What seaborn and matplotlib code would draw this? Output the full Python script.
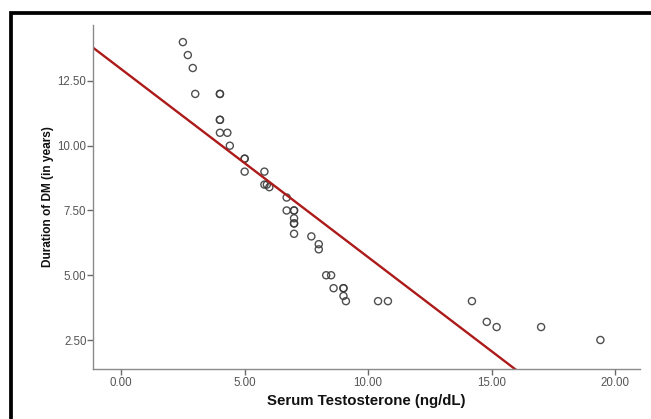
import matplotlib
matplotlib.use("Agg")
import matplotlib.pyplot as plt
from matplotlib.patches import Rectangle
import seaborn as sns
import pandas as pd

# Data
testosterone = [2.5, 2.7, 2.9, 3.0, 4.0, 4.0, 4.0, 4.0, 4.0, 4.3,
                4.4, 5.0, 5.0, 5.0, 5.8, 5.8, 5.9, 6.0, 6.7, 6.7,
                7.0, 7.0, 7.0, 7.0, 7.0, 7.0, 7.7, 8.0, 8.0, 8.3,
                8.5, 8.6, 9.0, 9.0, 9.0, 9.1, 10.4, 10.8, 14.2, 14.8,
                15.2, 17.0, 19.4]
duration = [14.0, 13.5, 13.0, 12.0, 12.0, 12.0, 11.0, 11.0, 10.5, 10.5,
            10.0, 9.5, 9.5, 9.0, 9.0, 8.5, 8.5, 8.4, 8.0, 7.5,
            7.5, 7.5, 7.2, 7.0, 7.0, 6.6, 6.5, 6.2, 6.0, 5.0,
            5.0, 4.5, 4.5, 4.5, 4.2, 4.0, 4.0, 4.0, 4.0, 3.2,
            3.0, 3.0, 2.5]
x_ticks = [0, 5, 10, 15, 20]
x_tick_labels = ["0.00", "5.00", "10.00", "15.00", "20.00"]
y_ticks = [2.5, 5.0, 7.5, 10.0, 12.5]
y_tick_labels = ["2.50", "5.00", "7.50", "10.00", "12.50"]

df = pd.DataFrame({"Serum Testosterone (ng/dL)": testosterone,
                   "Duration of DM (in years)": duration})

sns.set_style("white")
plt.rcParams["font.family"] = ["Liberation Sans", "DejaVu Sans"]

fig = plt.figure(figsize=(6.51, 4.19), dpi=100)
ax = fig.add_axes([0.1424, 0.1193, 0.983 - 0.1424, 0.9403 - 0.1193])
ax.set_xlim(-1.15, 21.0)
ax.set_ylim(1.38, 14.66)

sns.regplot(data=df, x="Serum Testosterone (ng/dL)", y="Duration of DM (in years)",
            ax=ax, ci=None, truncate=False,
            scatter_kws=dict(s=26, facecolors="none", edgecolors="#3c3c3c",
                             linewidths=1.0, alpha=0.9),
            line_kws=dict(color="#ad1a1a", linewidth=1.7))

ax.set_xticks(x_ticks)
ax.set_xticklabels(x_tick_labels)
ax.set_yticks(y_ticks)
ax.set_yticklabels(y_tick_labels)

for s in ["top", "right"]:
    ax.spines[s].set_visible(False)
for s in ["left", "bottom"]:
    ax.spines[s].set_color("#8a8a8a")
    ax.spines[s].set_linewidth(1.0)

ax.tick_params(axis="both", direction="out", length=4.0, width=1.0,
               color="#6a6a6a", labelcolor="#555555", labelsize=8.3,
               left=True, bottom=True)
ax.tick_params(axis="y", pad=0.5)
ax.tick_params(axis="x", pad=1.5)

ax.set_xlabel("Serum Testosterone (ng/dL)", fontsize=10.8, fontweight="bold",
              color="#111111")
ax.set_ylabel("Duration of DM (in years)", fontsize=8.6, fontweight="bold",
              color="#111111")
ax.xaxis.set_label_coords(0.5003, -0.072)
ax.yaxis.set_label_coords(-0.071, 0.5)

# black frame (left and top edges visible)
fig.add_artist(Rectangle((11.0 / 651, -0.2), 2.0, (419 - 13.5) / 419 + 0.2,
                         transform=fig.transFigure, fill=False,
                         edgecolor="black", linewidth=2.7))

fig.savefig("out.png", dpi=100)
